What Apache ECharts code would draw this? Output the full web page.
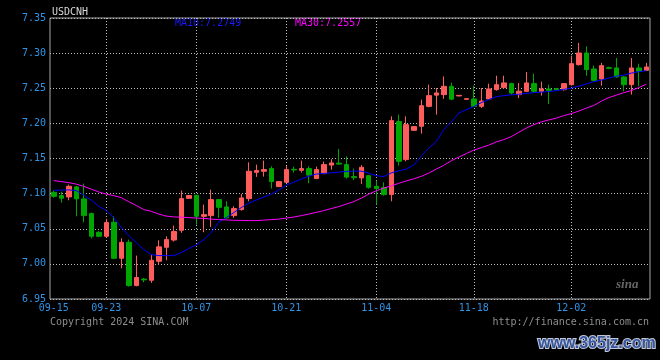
<!DOCTYPE html>
<html><head><meta charset="utf-8">
<script src="https://cdn.jsdelivr.net/npm/echarts@6/dist/echarts.min.js"></script>
<style>html,body{margin:0;padding:0;background:#000}#c{width:660px;height:360px}</style>
</head><body><div id="c"></div>
<script>
const dates = ['09-15','09-16','09-17','09-18','09-19','09-20','09-21','09-23','09-24','09-25',
'09-26','09-27','09-28','09-30','10-01','10-02','10-03','10-04','10-05','10-07',
'10-08','10-09','10-10','10-11','10-12','10-14','10-15','10-16','10-17','10-18',
'10-19','10-21','10-22','10-23','10-24','10-25','10-26','10-28','10-29','10-30',
'10-31','11-01','11-02','11-04','11-05','11-06','11-07','11-08','11-09','11-10',
'11-11','11-12','11-13','11-14','11-15','11-16','11-18','11-19','11-20','11-21',
'11-22','11-23','11-24','11-25','11-26','11-27','11-28','11-29','11-30','12-02',
'12-03','12-04','12-05','12-06','12-07','12-09','12-10','12-11','12-12','12-13'];
const openP = [7.1019,7.0972,7.0953,7.1096,7.0925,7.0716,7.0450,7.0393,7.0592,7.0080,
7.0307,6.9691,6.9784,6.9767,7.0037,7.0236,7.0339,7.0478,7.0933,7.0976,
7.0677,7.0687,7.0915,7.0811,7.0687,7.0773,7.0929,7.1303,7.1318,7.1356,
7.1100,7.1161,7.1346,7.1332,7.1356,7.1214,7.1285,7.1406,7.1434,7.1413,
7.1242,7.1224,7.1256,7.1104,7.1086,7.0986,7.2025,7.1484,7.1901,7.1958,
7.2242,7.2402,7.2409,7.2527,7.2390,7.2342,7.2348,7.2242,7.2348,7.2480,
7.2509,7.2566,7.2409,7.2456,7.2566,7.2456,7.2490,7.2494,7.2480,7.2551,
7.2836,7.3002,7.2775,7.2632,7.2793,7.2789,7.2661,7.2551,7.2789,7.2755];
const closeP = [7.0962,7.0934,7.1104,7.0925,7.0687,7.0393,7.0393,7.0588,7.0080,7.0307,
6.9691,6.9805,6.9772,7.0051,7.0242,7.0346,7.0460,7.0929,7.0972,7.0677,
7.0701,7.0915,7.0805,7.0655,7.0787,7.0939,7.1318,7.1328,7.1342,7.1171,
7.1171,7.1342,7.1338,7.1356,7.1264,7.1342,7.1413,7.1437,7.1420,7.1235,
7.1228,7.1375,7.1090,7.1071,7.0986,7.2039,7.1460,7.1982,7.1954,7.2252,
7.2395,7.2433,7.2527,7.2345,7.2399,7.2352,7.2242,7.2319,7.2490,7.2551,
7.2576,7.2433,7.2459,7.2576,7.2456,7.2490,7.2470,7.2480,7.2566,7.2850,
7.3002,7.2765,7.2612,7.2822,7.2783,7.2661,7.2551,7.2789,7.2741,7.2803];
const lowP = [7.0943,7.0872,7.0905,7.0677,7.0592,7.0364,7.0379,7.0374,7.0068,6.9937,
6.9677,6.9681,6.9738,6.9730,6.9990,7.0051,7.0317,7.0441,7.0930,7.0559,
7.0450,7.0526,7.0655,7.0645,7.0655,7.0758,7.0891,7.1238,7.1242,7.1071,
7.1093,7.1150,7.1299,7.1299,7.1147,7.1207,7.1278,7.1342,7.1413,7.1214,
7.1192,7.1138,7.1071,7.0844,7.0972,7.0891,7.1399,7.1460,7.1895,7.1854,
7.2228,7.2124,7.2348,7.2331,7.2388,7.2340,7.2238,7.2220,7.2338,7.2466,
7.2494,7.2409,7.2359,7.2445,7.2437,7.2395,7.2277,7.2477,7.2466,7.2537,
7.2822,7.2679,7.2601,7.2537,7.2772,7.2651,7.2456,7.2409,7.2527,7.2750];
const highP = [7.1043,7.1029,7.1128,7.1110,7.1143,7.0730,7.0464,7.0640,7.0677,7.0364,
7.0346,7.0118,6.9801,7.0128,7.0336,7.0393,7.0545,7.1043,7.0975,7.0980,
7.0844,7.1057,7.0920,7.0891,7.0820,7.0996,7.1446,7.1413,7.1470,7.1389,
7.1178,7.1392,7.1384,7.1470,7.1389,7.1384,7.1456,7.1491,7.1636,7.1531,
7.1356,7.1406,7.1260,7.1185,7.1161,7.2100,7.2124,7.2100,7.1960,7.2338,
7.2551,7.2504,7.2669,7.2580,7.2402,7.2354,7.2537,7.2504,7.2566,7.2679,
7.2679,7.2580,7.2575,7.2732,7.2708,7.2594,7.2551,7.2497,7.2575,7.2964,
7.3145,7.3096,7.2822,7.2860,7.2807,7.2931,7.2672,7.2931,7.2850,7.2860];
const ma10 = [7.1047,7.1050,7.1053,7.1043,7.0979,7.0908,7.0820,7.0758,7.0659,7.0517,
7.0403,7.0303,7.0203,7.0132,7.0118,7.0118,7.0118,7.0161,7.0218,7.0268,
7.0346,7.0445,7.0595,7.0659,7.0730,7.0801,7.0865,7.0908,7.0951,7.0993,
7.1050,7.1121,7.1164,7.1207,7.1249,7.1278,7.1288,7.1296,7.1306,7.1316,
7.1320,7.1320,7.1292,7.1256,7.1242,7.1295,7.1325,7.1349,7.1406,7.1534,
7.1648,7.1740,7.1911,7.2018,7.2146,7.2196,7.2238,7.2295,7.2338,7.2381,
7.2395,7.2406,7.2415,7.2426,7.2437,7.2445,7.2452,7.2466,7.2484,7.2501,
7.2530,7.2561,7.2594,7.2615,7.2644,7.2672,7.2686,7.2715,7.2736,7.2749];
const ma30 = [7.1185,7.1171,7.1157,7.1135,7.1104,7.1064,7.1024,7.0993,7.0972,7.0943,
7.0886,7.0830,7.0773,7.0748,7.0709,7.0680,7.0669,7.0664,7.0659,7.0652,
7.0647,7.0637,7.0630,7.0626,7.0620,7.0619,7.0616,7.0616,7.0623,7.0630,
7.0637,7.0652,7.0666,7.0687,7.0709,7.0733,7.0758,7.0787,7.0815,7.0851,
7.0886,7.0936,7.0993,7.1040,7.1079,7.1110,7.1147,7.1181,7.1211,7.1246,
7.1292,7.1349,7.1402,7.1467,7.1520,7.1569,7.1619,7.1655,7.1690,7.1736,
7.1769,7.1811,7.1873,7.1932,7.1982,7.2021,7.2049,7.2075,7.2110,7.2139,
7.2174,7.2217,7.2255,7.2316,7.2366,7.2402,7.2437,7.2466,7.2509,7.2557];
const labelDates = ['09-15','09-23','10-07','10-21','11-04','11-18','12-02'];
const yMin = 6.95, yMax = 7.35, yStep = 0.05;
const symbolName = 'USDCNH';

const kData = dates.map((d, i) => [openP[i], closeP[i], lowP[i], highP[i]]);
const mono = 'DejaVu Sans Mono';
const chart = echarts.init(document.getElementById('c'), null, {renderer: 'canvas'});
chart.setOption({
  backgroundColor: '#000',
  animation: false,
  tooltip: {show: false},
  axisPointer: {show: false},
  grid: {left: 50, right: 10, top: 18, height: 281, show: true, borderColor: '#a8a8a8', borderWidth: 1},
  xAxis: {
    type: 'category', data: dates, boundaryGap: true,
    axisLine: {show: false}, axisTick: {show: false}, axisPointer: {show: false},
    axisLabel: {interval: (i, v) => labelDates.includes(v), color: '#2f93e6', fontFamily: mono, fontSize: 10, margin: 4},
    splitLine: {show: true, alignWithLabel: true, interval: (i, v) => i > 0 && labelDates.includes(v),
      lineStyle: {color: '#bdbdbd', type: [1, 2], width: 1}},
    splitArea: {show: false}
  },
  yAxis: {
    type: 'value', min: yMin, max: yMax, interval: yStep,
    axisLine: {show: false}, axisTick: {show: false},
    axisLabel: {formatter: v => v.toFixed(2), color: '#2f93e6', fontFamily: mono, fontSize: 10, margin: 4},
    splitLine: {show: true, lineStyle: {color: '#bdbdbd', type: [1, 2], width: 1}}
  },
  series: [
    {type: 'candlestick', data: kData, barWidth: 5, silent: true,
      itemStyle: {color: '#ff5c5c', color0: '#00a600', borderColor: '#ff5c5c', borderColor0: '#00a600', borderWidth: 1}},
    {type: 'line', data: ma10, showSymbol: false, symbol: 'none', silent: true, z: 5, lineStyle: {color: '#0000ff', width: 1}},
    {type: 'line', data: ma30, showSymbol: false, symbol: 'none', silent: true, z: 5, lineStyle: {color: '#ff00ff', width: 1}}
  ],
  graphic: [
    {type: 'text', left: 52, top: 7, silent: true, style: {text: symbolName, fill: '#d8d8d8', fontFamily: mono, fontSize: 10}},
    {type: 'text', left: 175, top: 18, silent: true, style: {text: 'MA10:' + ma10[ma10.length - 1].toFixed(4), fill: '#1a1aff', fontFamily: mono, fontSize: 10}},
    {type: 'text', left: 295, top: 18, silent: true, style: {text: 'MA30:' + ma30[ma30.length - 1].toFixed(4), fill: '#ff00ff', fontFamily: mono, fontSize: 10}},
    {type: 'text', left: 50, top: 317, silent: true, style: {text: 'Copyright 2024 SINA.COM', fill: '#8e8e8e', fontFamily: mono, fontSize: 10}},
    {type: 'text', right: 11, top: 317, silent: true, style: {text: 'http://finance.sina.com.cn', fill: '#8e8e8e', fontFamily: mono, fontSize: 10}},
    {type: 'text', left: 616, top: 278, silent: true, style: {text: 'sina', fill: '#666', fontFamily: 'Liberation Serif', fontSize: 13, fontStyle: 'italic', fontWeight: 'bold'}},
    {type: 'text', left: 537, top: 335, silent: true, style: {text: 'www.365jz.com', fill: '#34559c', fontFamily: 'Liberation Sans', fontSize: 16, fontWeight: 'bold', stroke: '#c4c8d8', lineWidth: 2}}
  ]
});
</script></body></html>
